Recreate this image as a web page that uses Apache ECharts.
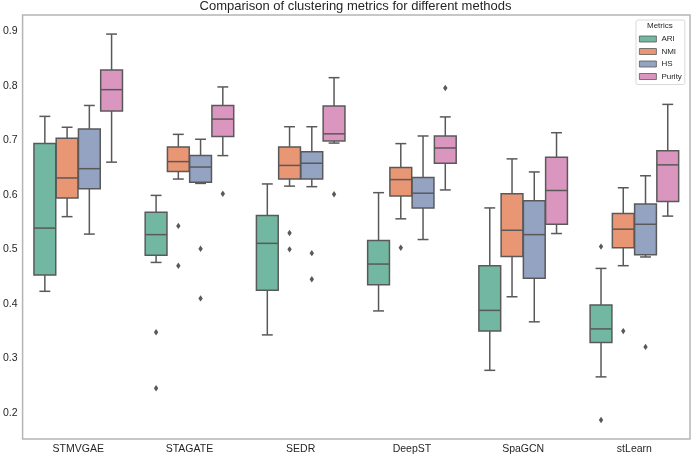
<!DOCTYPE html>
<html>
<head>
<meta charset="utf-8">
<script src="https://cdn.jsdelivr.net/npm/echarts@6/dist/echarts.min.js"></script>
<style>
  html, body { margin: 0; padding: 0; background: #ffffff; }
  #chart { width: 692px; height: 456px; }
</style>
</head>
<body>
<div id="chart"></div>
<script>
// ---- data ----
const methods = ['STMVGAE', 'STAGATE', 'SEDR', 'DeepST', 'SpaGCN', 'stLearn'];
const metrics = ['ARI', 'NMI', 'HS', 'Purity'];
const yTicks = [0.2, 0.3, 0.4, 0.5, 0.6, 0.7, 0.8, 0.9];

// box stats per method: [lower whisker, Q1, median, Q3, upper whisker]
const ariBoxes = [
  [0.423, 0.453, 0.539, 0.694, 0.744],
  [0.476, 0.489, 0.527, 0.568, 0.599],
  [0.343, 0.425, 0.511, 0.562, 0.620],
  [0.387, 0.435, 0.473, 0.516, 0.604],
  [0.278, 0.350, 0.388, 0.470, 0.576],
  [0.266, 0.329, 0.354, 0.398, 0.465]
];
const nmiBoxes = [
  [0.560, 0.594, 0.631, 0.704, 0.724],
  [0.629, 0.643, 0.661, 0.688, 0.711],
  [0.616, 0.629, 0.654, 0.688, 0.725],
  [0.556, 0.598, 0.628, 0.650, 0.694],
  [0.413, 0.487, 0.535, 0.602, 0.666],
  [0.470, 0.503, 0.537, 0.566, 0.613]
];
const hsBoxes = [
  [0.528, 0.611, 0.648, 0.721, 0.764],
  [0.621, 0.623, 0.651, 0.672, 0.702],
  [0.615, 0.629, 0.658, 0.679, 0.725],
  [0.518, 0.576, 0.603, 0.632, 0.708],
  [0.367, 0.447, 0.527, 0.589, 0.642],
  [0.486, 0.490, 0.546, 0.583, 0.635]
];
const purityBoxes = [
  [0.660, 0.754, 0.793, 0.829, 0.895],
  [0.672, 0.707, 0.739, 0.764, 0.798],
  [0.695, 0.699, 0.712, 0.763, 0.815],
  [0.609, 0.658, 0.686, 0.708, 0.743],
  [0.529, 0.546, 0.608, 0.669, 0.714],
  [0.561, 0.588, 0.655, 0.681, 0.766]
];

// outliers: [method index, value]
const ariOutliers = [[1, 0.348], [1, 0.245], [5, 0.505], [5, 0.187]];
const nmiOutliers = [[1, 0.543], [1, 0.470], [2, 0.530], [2, 0.500], [3, 0.503], [5, 0.350]];
const hsOutliers = [[1, 0.501], [1, 0.410], [2, 0.493], [2, 0.445], [5, 0.321]];
const purityOutliers = [[1, 0.602], [2, 0.601], [3, 0.796]];

// ---- styling ----
const boxColors = ['#72b7a1', '#e99675', '#95a3c3', '#db96c0'];
const lineGray = '#595959';
const textColor = '#262626';
const FONT = '"Liberation Sans", Arial, sans-serif';

const boxSets = [ariBoxes, nmiBoxes, hsBoxes, purityBoxes];
const outlierSets = [ariOutliers, nmiOutliers, hsOutliers, purityOutliers];
const nHue = metrics.length;

function boxRenderer(k) {
  return function (params, api) {
    const cat = api.value(0);
    const band = api.size([1, 0])[0];
    const slot = band * 0.8 / nHue;
    const bw = slot * 0.98;
    const cx = api.coord([cat, 0.5])[0] + (k - (nHue - 1) / 2) * slot;
    const yLow = api.coord([cat, api.value(1)])[1];
    const yQ1 = api.coord([cat, api.value(2)])[1];
    const yMed = api.coord([cat, api.value(3)])[1];
    const yQ3 = api.coord([cat, api.value(4)])[1];
    const yHigh = api.coord([cat, api.value(5)])[1];
    const lineStyle = { stroke: lineGray, lineWidth: 1.5, fill: null };
    const cap = bw / 4;
    return {
      type: 'group',
      children: [
        { type: 'line', shape: { x1: cx, y1: yLow, x2: cx, y2: yQ1 }, style: lineStyle },
        { type: 'line', shape: { x1: cx, y1: yQ3, x2: cx, y2: yHigh }, style: lineStyle },
        { type: 'line', shape: { x1: cx - cap, y1: yLow, x2: cx + cap, y2: yLow }, style: lineStyle },
        { type: 'line', shape: { x1: cx - cap, y1: yHigh, x2: cx + cap, y2: yHigh }, style: lineStyle },
        { type: 'rect', shape: { x: cx - bw / 2, y: yQ3, width: bw, height: yQ1 - yQ3 },
          style: { fill: boxColors[k], stroke: lineGray, lineWidth: 1.5 } },
        { type: 'line', shape: { x1: cx - bw / 2, y1: yMed, x2: cx + bw / 2, y2: yMed }, style: lineStyle }
      ]
    };
  };
}

function outlierRenderer(k) {
  return function (params, api) {
    const cat = api.value(0);
    const band = api.size([1, 0])[0];
    const slot = band * 0.8 / nHue;
    const p = api.coord([cat, api.value(1)]);
    const cx = p[0] + (k - (nHue - 1) / 2) * slot;
    const cy = p[1];
    const hw = 2.2, hh = 3.2;
    return {
      type: 'polygon',
      shape: { points: [[cx, cy - hh], [cx + hw, cy], [cx, cy + hh], [cx - hw, cy]] },
      style: { fill: lineGray, stroke: null }
    };
  };
}

const series = [];
metrics.forEach(function (name, k) {
  series.push({
    name: name,
    type: 'custom',
    renderItem: boxRenderer(k),
    itemStyle: { color: boxColors[k] },
    encode: { x: 0, y: [1, 2, 3, 4, 5] },
    data: boxSets[k].map(function (b, i) { return [i].concat(b); }),
    z: 2
  });
});
metrics.forEach(function (name, k) {
  series.push({
    name: name,
    type: 'custom',
    renderItem: outlierRenderer(k),
    itemStyle: { color: boxColors[k] },
    encode: { x: 0, y: 1 },
    data: outlierSets[k],
    z: 3
  });
});

const chart = echarts.init(document.getElementById('chart'), null, { renderer: 'canvas' });
chart.setOption({
  animation: false,
  backgroundColor: '#ffffff',
  textStyle: { fontFamily: FONT },
  title: {
    text: 'Comparison of clustering metrics for different methods',
    left: 355.5,
    textAlign: 'center',
    top: 0,
    padding: 0,
    textStyle: { fontSize: 13, fontWeight: 'normal', color: textColor, fontFamily: FONT }
  },
  grid: {
    left: 21, right: 2, top: 15, bottom: 17,
    show: true, borderColor: '#b5b5b5', borderWidth: 1.5, backgroundColor: 'transparent'
  },
  legend: {
    orient: 'vertical',
    left: 636,
    top: 20,
    padding: [15, 3, 4, 3],
    itemWidth: 17,
    itemHeight: 6,
    itemGap: 4.5,
    icon: 'rect',
    backgroundColor: '#ffffff',
    borderColor: '#d9d9d9',
    borderWidth: 1,
    borderRadius: 2,
    textStyle: { fontSize: 8, color: textColor, fontFamily: FONT },
    data: metrics.map(function (m, k) {
      return { name: m, itemStyle: { color: boxColors[k], borderColor: lineGray, borderWidth: 0.8 } };
    })
  },
  graphic: [{
    type: 'text',
    left: 660 - 13,
    top: 22,
    z: 100,
    style: { text: 'Metrics', fontSize: 8, fill: textColor, fontFamily: FONT }
  }],
  xAxis: {
    type: 'category',
    data: methods,
    boundaryGap: true,
    axisLine: { show: false },
    axisTick: { show: false },
    splitLine: { show: false },
    axisLabel: { fontSize: 10.5, color: textColor, margin: 5, fontFamily: FONT }
  },
  yAxis: {
    type: 'value',
    min: 0.152,
    max: 0.930,
    axisLine: { show: false },
    axisTick: { show: false },
    splitLine: { show: false },
    axisLabel: {
      customValues: yTicks,
      fontSize: 10.5,
      color: textColor,
      margin: 5,
      fontFamily: FONT,
      formatter: function (v) { return v.toFixed(1); }
    }
  },
  series: series
});
</script>
</body>
</html>
